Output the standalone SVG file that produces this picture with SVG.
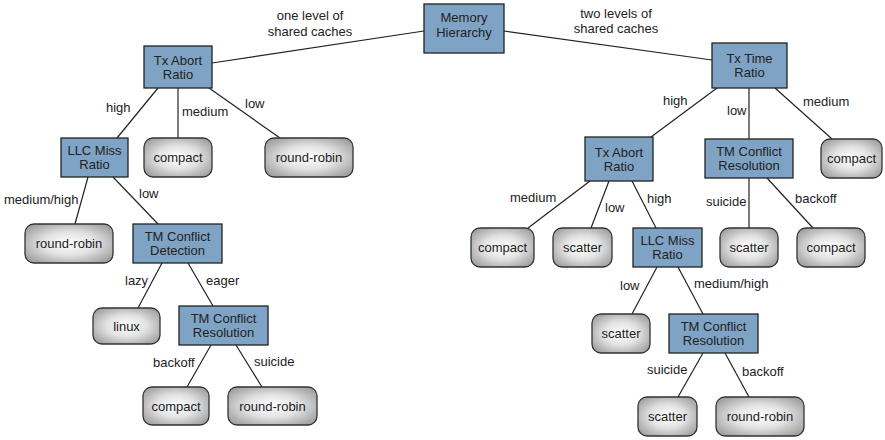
<svg xmlns="http://www.w3.org/2000/svg" width="885" height="440" viewBox="0 0 885 440">
<defs>
<radialGradient id="g" cx="50%" cy="50%" r="60%">
<stop offset="0" stop-color="#ffffff"/>
<stop offset="0.5" stop-color="#e2e2e2"/>
<stop offset="1" stop-color="#a3a3a3"/>
</radialGradient>
<style>
.b{fill:#7ea3c4;stroke:#222;stroke-width:1.3}
.r{fill:url(#g);stroke:#333;stroke-width:1.3}
text{font-family:"Liberation Sans",Arial,sans-serif;font-size:13px;fill:#222}
.c{text-anchor:middle}
.e line{stroke:#222;stroke-width:1.2}
</style>
</defs>
<rect width="885" height="440" fill="#fff"/>
<g id="edges" class="e">
<line x1="424" y1="31" x2="212" y2="63"/>
<line x1="504" y1="31" x2="712" y2="60"/>
<line x1="158" y1="88" x2="117" y2="138"/>
<line x1="178" y1="88" x2="178" y2="138"/>
<line x1="209" y1="88" x2="280" y2="138"/>
<line x1="88" y1="177" x2="75" y2="224"/>
<line x1="113" y1="177" x2="158" y2="224"/>
<line x1="162" y1="263" x2="138" y2="308"/>
<line x1="188" y1="263" x2="213" y2="306"/>
<line x1="211" y1="345" x2="187" y2="387"/>
<line x1="236" y1="345" x2="262" y2="387"/>
<line x1="717" y1="88" x2="651" y2="137"/>
<line x1="749" y1="88" x2="749" y2="139"/>
<line x1="775" y1="88" x2="832" y2="139"/>
<line x1="749" y1="178" x2="749" y2="228"/>
<line x1="767" y1="178" x2="813" y2="228"/>
<line x1="590" y1="181" x2="528" y2="228"/>
<line x1="609" y1="181" x2="591" y2="228"/>
<line x1="632" y1="181" x2="656" y2="228"/>
<line x1="657" y1="267" x2="632" y2="314"/>
<line x1="678" y1="267" x2="703" y2="314"/>
<line x1="703" y1="353" x2="678" y2="397"/>
<line x1="725" y1="353" x2="749" y2="397"/>
</g>
<g id="edge-labels">
<text class="c" x="310" y="20">one level of</text>
<text class="c" x="310" y="36">shared caches</text>
<text class="c" x="616" y="18">two levels of</text>
<text class="c" x="616" y="33">shared caches</text>
<text x="106" y="112">high</text>
<text x="182" y="116">medium</text>
<text x="245" y="108">low</text>
<text x="4" y="204">medium/high</text>
<text x="139" y="198">low</text>
<text x="125" y="285">lazy</text>
<text x="206" y="285">eager</text>
<text x="153" y="367">backoff</text>
<text x="254" y="366">suicide</text>
<text x="663" y="105">high</text>
<text x="727" y="115">low</text>
<text x="803" y="106">medium</text>
<text x="706" y="206">suicide</text>
<text x="795" y="203">backoff</text>
<text x="510" y="202">medium</text>
<text x="605" y="212">low</text>
<text x="647" y="203">high</text>
<text x="620" y="290">low</text>
<text x="694" y="288">medium/high</text>
<text x="647" y="374">suicide</text>
<text x="742" y="376">backoff</text>
</g>
<g id="mem"><rect class="b" x="424" y="4" width="80" height="49"/><text class="c" x="464" y="22">Memory</text><text class="c" x="464" y="37">Hierarchy</text></g>
<g id="txabortL"><rect class="b" x="144" y="46" width="68" height="42"/><text class="c" x="178" y="65">Tx Abort</text><text class="c" x="178" y="79">Ratio</text></g>
<g id="llcL"><rect class="b" x="61" y="138" width="67" height="39"/><text class="c" x="94.5" y="155">LLC Miss</text><text class="c" x="94.5" y="169">Ratio</text></g>
<g id="tmcd"><rect class="b" x="133" y="224" width="89" height="39"/><text class="c" x="177.5" y="241">TM Conflict</text><text class="c" x="177.5" y="255">Detection</text></g>
<g id="tmcrL"><rect class="b" x="179" y="306" width="89" height="39"/><text class="c" x="223.5" y="323">TM Conflict</text><text class="c" x="223.5" y="337">Resolution</text></g>
<g id="txtime"><rect class="b" x="712" y="43" width="75" height="45"/><text class="c" x="749.5" y="63">Tx Time</text><text class="c" x="749.5" y="77">Ratio</text></g>
<g id="txabortR"><rect class="b" x="585" y="137" width="68" height="44"/><text class="c" x="619" y="157">Tx Abort</text><text class="c" x="619" y="171">Ratio</text></g>
<g id="tmcrR1"><rect class="b" x="705" y="139" width="88" height="39"/><text class="c" x="749" y="156">TM Conflict</text><text class="c" x="749" y="170">Resolution</text></g>
<g id="llcR"><rect class="b" x="633" y="228" width="69" height="39"/><text class="c" x="667.5" y="245">LLC Miss</text><text class="c" x="667.5" y="259">Ratio</text></g>
<g id="tmcrR2"><rect class="b" x="669" y="314" width="89" height="39"/><text class="c" x="713.5" y="331">TM Conflict</text><text class="c" x="713.5" y="345">Resolution</text></g>
<g id="compactL1"><rect class="r" x="144" y="138" width="68" height="39" rx="9"/><text class="c" x="178" y="162">compact</text></g>
<g id="rrL1"><rect class="r" x="265" y="138" width="88" height="39" rx="9"/><text class="c" x="309" y="162">round-robin</text></g>
<g id="rrL2"><rect class="r" x="25" y="224" width="88" height="39" rx="9"/><text class="c" x="69" y="248">round-robin</text></g>
<g id="linux"><rect class="r" x="93" y="308" width="67" height="36" rx="9"/><text class="c" x="126.5" y="331">linux</text></g>
<g id="compactL3"><rect class="r" x="143" y="387" width="66" height="38" rx="9"/><text class="c" x="176" y="411">compact</text></g>
<g id="rrL3"><rect class="r" x="228" y="387" width="89" height="38" rx="9"/><text class="c" x="272.5" y="411">round-robin</text></g>
<g id="compactR1"><rect class="r" x="821" y="139" width="61" height="39" rx="9"/><text class="c" x="851.5" y="163">compact</text></g>
<g id="compactR2"><rect class="r" x="471" y="228" width="63" height="39" rx="9"/><text class="c" x="502.5" y="252">compact</text></g>
<g id="scatterR1"><rect class="r" x="553" y="228" width="59" height="39" rx="9"/><text class="c" x="582.5" y="252">scatter</text></g>
<g id="scatterR2"><rect class="r" x="720" y="228" width="58" height="39" rx="9"/><text class="c" x="749" y="252">scatter</text></g>
<g id="compactR3"><rect class="r" x="797" y="228" width="68" height="39" rx="9"/><text class="c" x="831" y="252">compact</text></g>
<g id="scatterR3"><rect class="r" x="592" y="314" width="58" height="39" rx="9"/><text class="c" x="621" y="338">scatter</text></g>
<g id="scatterR4"><rect class="r" x="638" y="397" width="59" height="39" rx="9"/><text class="c" x="667.5" y="421">scatter</text></g>
<g id="rrR"><rect class="r" x="716" y="397" width="88" height="39" rx="9"/><text class="c" x="760" y="421">round-robin</text></g>
</svg>
